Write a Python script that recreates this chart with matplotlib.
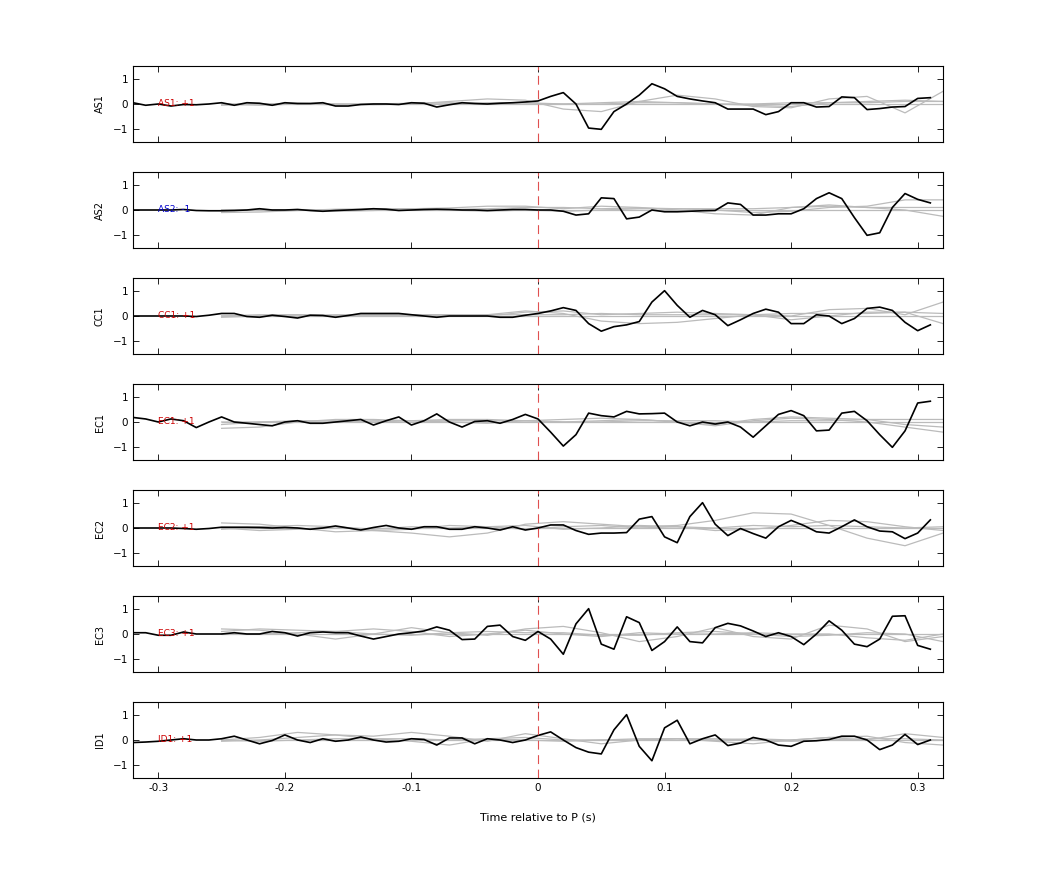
import numpy as np
import matplotlib
matplotlib.use("Agg")
import matplotlib.pyplot as plt

# time axis of the traces (s, relative to P)
t = np.round(np.arange(-0.32, 0.315, 0.01), 2)
# sparser time axis of the grey comparison traces
tg = np.round(np.arange(-0.25, 0.33, 0.03), 2)

stations = ["AS1", "AS2", "CC1", "EC1", "EC2", "EC3", "ID1"]
labels = ["AS1: +1", "AS2: -1", "CC1: +1", "EC1: +1", "EC2: +1", "EC3: +1", "ID1: +1"]
label_colors = ["#cc0000", "#0000cc", "#cc0000", "#cc0000", "#cc0000", "#cc0000", "#cc0000"]

as1 = [0.05, -0.05, 0.0, -0.08, -0.02, -0.03, 0.0, 0.05, -0.05, 0.05, 0.03, -0.05, 0.05, 0.02, 0.02, 0.05,
       -0.08, -0.08, -0.02, 0.0, 0.0, -0.02, 0.05, 0.03, -0.12, -0.03, 0.05, 0.02, 0.0, 0.03, 0.05, 0.08,
       0.12, 0.3, 0.45, 0.0, -0.95, -1.0, -0.3, 0.0, 0.35, 0.8, 0.6, 0.3, 0.2, 0.12, 0.05, -0.2,
       -0.2, -0.2, -0.42, -0.3, 0.05, 0.05, -0.12, -0.1, 0.28, 0.25, -0.22, -0.18, -0.12, -0.1, 0.22, 0.25]
as2 = [0.0, 0.0, 0.0, 0.0, 0.02, -0.02, -0.03, -0.03, -0.02, 0.0, 0.05, 0.0, 0.0, 0.02, -0.02, -0.05,
       -0.02, 0.0, 0.02, 0.05, 0.03, -0.02, 0.0, 0.02, 0.03, 0.02, 0.0, 0.0, -0.02, 0.0, 0.02, 0.02,
       0.0, 0.0, -0.05, -0.2, -0.15, 0.48, 0.45, -0.35, -0.28, 0.0, -0.07, -0.07, -0.05, -0.03, -0.02, 0.28,
       0.22, -0.2, -0.2, -0.15, -0.15, 0.05, 0.45, 0.68, 0.45, -0.3, -1.0, -0.9, 0.1, 0.65, 0.42, 0.28]
cc1 = [0.0, 0.0, 0.0, 0.0, 0.0, -0.02, 0.03, 0.1, 0.1, -0.02, -0.05, 0.03, -0.02, -0.08, 0.03, 0.02,
       -0.05, 0.02, 0.1, 0.1, 0.1, 0.1, 0.05, 0.0, -0.05, 0.0, 0.0, 0.0, 0.0, -0.05, -0.05, 0.03,
       0.1, 0.2, 0.33, 0.22, -0.3, -0.6, -0.42, -0.35, -0.22, 0.55, 1.0, 0.42, -0.05, 0.22, 0.05, -0.38,
       -0.15, 0.1, 0.27, 0.15, -0.3, -0.3, 0.05, 0.0, -0.3, -0.1, 0.3, 0.35, 0.22, -0.25, -0.58, -0.35]
ec1 = [0.18, 0.12, 0.0, 0.12, 0.05, -0.22, 0.0, 0.2, 0.0, -0.05, -0.1, -0.15, 0.0, 0.05, -0.05, -0.05,
       0.0, 0.05, 0.1, -0.12, 0.05, 0.2, -0.12, 0.05, 0.32, 0.0, -0.2, 0.02, 0.05, -0.05, 0.1, 0.3,
       0.12, -0.4, -0.95, -0.5, 0.35, 0.25, 0.2, 0.42, 0.32, 0.33, 0.35, 0.0, -0.15, 0.0, -0.08, 0.0,
       -0.2, -0.6, -0.15, 0.3, 0.45, 0.25, -0.35, -0.32, 0.35, 0.42, 0.05, -0.5, -1.0, -0.35, 0.75, 0.82]
ec2 = [0.0, 0.0, 0.0, 0.0, -0.02, -0.05, -0.02, 0.03, 0.03, 0.03, 0.02, 0.0, 0.02, 0.0, -0.05, 0.0,
       0.08, 0.0, -0.08, 0.02, 0.1, 0.0, -0.05, 0.05, 0.05, -0.05, -0.05, 0.05, 0.0, -0.08, 0.05, -0.08,
       0.0, 0.12, 0.12, -0.1, -0.25, -0.2, -0.2, -0.18, 0.35, 0.45, -0.35, -0.58, 0.45, 1.0, 0.15, -0.3,
       -0.02, -0.22, -0.4, 0.05, 0.3, 0.1, -0.15, -0.2, 0.05, 0.32, 0.05, -0.12, -0.15, -0.42, -0.2, 0.32]
ec3 = [0.05, 0.05, -0.05, -0.05, 0.08, 0.0, 0.0, 0.0, 0.05, 0.0, 0.0, 0.1, 0.05, -0.08, 0.05, 0.08,
       0.05, 0.05, -0.08, -0.2, -0.1, 0.0, 0.05, 0.12, 0.28, 0.15, -0.22, -0.2, 0.3, 0.35, -0.1, -0.25,
       0.1, -0.2, -0.8, 0.4, 1.0, -0.4, -0.6, 0.68, 0.45, -0.65, -0.3, 0.28, -0.3, -0.35, 0.25, 0.42,
       0.32, 0.12, -0.1, 0.05, -0.1, -0.42, 0.0, 0.52, 0.15, -0.4, -0.5, -0.2, 0.7, 0.72, -0.45, -0.6]
id1 = [-0.1, -0.08, -0.05, 0.0, 0.05, 0.0, 0.0, 0.05, 0.15, 0.0, -0.15, -0.02, 0.2, 0.0, -0.1, 0.05,
       -0.05, 0.0, 0.12, 0.0, -0.08, -0.05, 0.05, 0.02, -0.2, 0.08, 0.08, -0.15, 0.05, 0.0, -0.1, 0.0,
       0.18, 0.32, 0.0, -0.3, -0.48, -0.55, 0.4, 1.0, -0.25, -0.82, 0.48, 0.78, -0.15, 0.05, 0.2, -0.22,
       -0.12, 0.1, 0.0, -0.2, -0.25, -0.05, -0.03, 0.02, 0.15, 0.15, 0.0, -0.38, -0.2, 0.22, -0.18, 0.0]
traces = [as1, as2, cc1, ec1, ec2, ec3, id1]

# grey comparison traces, three per station, sampled at tg
grey = [
    [[0, 0, 0, -0.03, 0, 0, 0.1, 0.2, 0.15, -0.2, -0.3, 0.1, 0.35, 0.2, -0.1, -0.15, 0.2, 0.3, -0.35, 0.5],
     [-0.05, 0, 0.03, 0, -0.03, 0, 0, 0.05, 0.05, 0, 0, 0.05, 0.05, 0, 0, 0.05, 0.05, 0.05, 0.1, 0.1],
     [0, -0.05, 0, 0, 0, 0.03, 0.05, 0, 0, 0, 0.05, 0.1, 0.05, 0, -0.05, -0.1, 0.05, 0.1, 0.15, 0.1]],
    [[-0.1, -0.08, -0.02, 0.03, 0.05, 0.05, 0.08, 0.15, 0.15, 0.05, 0.15, 0.1, 0.0, -0.15, -0.2, 0.1, 0.2, 0.1, 0.0, -0.25],
     [0, 0.02, 0, -0.05, -0.02, 0.03, 0.0, -0.05, 0.0, -0.05, 0.0, 0.05, 0.05, 0.0, -0.1, -0.05, 0.1, 0.15, 0.4, 0.4],
     [0, -0.02, 0.02, 0, 0.02, 0.05, 0.02, 0.05, 0.1, 0.1, 0.05, 0.08, 0.05, 0.05, 0.05, 0.1, 0.15, 0.1, 0.1, 0.1]],
    [[0, 0, 0, 0.05, 0.05, 0.05, 0.05, 0.05, 0.2, 0.1, -0.2, -0.3, -0.25, -0.1, 0.05, 0.0, 0.25, 0.3, 0.05, 0.55],
     [-0.05, 0, 0.05, 0, 0.05, 0.05, 0.05, 0.0, 0.15, 0.2, 0.05, 0.1, 0.15, 0.1, 0.05, -0.15, 0.0, 0.15, 0.15, -0.3],
     [0, 0.05, 0.05, 0.02, 0.02, 0.02, 0.02, 0.05, 0.05, 0.05, 0.1, 0.05, 0.05, 0.05, 0.05, 0.1, 0.1, 0.1, 0.15, 0.1]],
    [[-0.25, -0.2, 0.0, 0.1, 0.1, 0.05, 0.1, 0.1, 0.05, 0.0, 0.05, 0.1, 0.0, -0.15, 0.05, 0.15, 0.1, 0.0, -0.2, -0.4],
     [-0.1, 0.0, 0.05, 0.05, 0.0, 0.05, 0.0, -0.05, 0.05, 0.1, 0.15, 0.1, 0.0, -0.1, 0.1, 0.2, 0.15, 0.1, -0.1, -0.2],
     [0, 0, 0, 0, 0.05, 0.05, 0.05, 0.05, 0.05, 0.0, 0.0, 0.05, 0.05, 0.05, 0.0, 0.05, 0.05, 0.1, 0.1, 0.1]],
    [[0.2, 0.15, 0.0, -0.15, -0.1, -0.2, -0.35, -0.2, 0.15, 0.25, 0.15, 0.05, 0.1, 0.3, 0.6, 0.55, 0.1, -0.4, -0.7, -0.2],
     [0.0, -0.1, -0.05, 0.05, -0.05, 0.05, 0.0, 0.05, 0.1, -0.05, 0.0, 0.1, 0.05, -0.1, -0.05, 0.1, 0.3, 0.25, 0.05, -0.1],
     [-0.05, 0.05, 0.1, 0.05, -0.1, -0.05, 0.1, 0.05, -0.05, 0.05, 0.1, 0.0, 0.05, 0.0, 0.1, 0.05, 0.1, 0.05, 0.0, 0.05]],
    [[0.2, 0.15, 0.0, -0.2, 0.0, 0.25, 0.05, -0.05, 0.2, 0.3, 0.05, -0.3, -0.1, 0.25, -0.1, -0.2, 0.35, 0.2, -0.3, -0.1],
     [0.1, 0.2, 0.15, 0.1, 0.2, 0.1, -0.1, 0.0, 0.15, 0.0, -0.1, 0.05, 0.0, 0.0, 0.05, 0.0, 0.0, -0.15, -0.25, 0.0],
     [0.0, 0.0, 0.05, 0.1, 0.0, -0.05, 0.05, 0.1, 0.05, 0.05, -0.05, -0.05, 0.05, 0.1, 0.0, -0.1, -0.05, 0.05, 0.0, -0.3]],
    [[0.0, 0.1, 0.3, 0.2, 0.15, 0.3, 0.15, -0.05, 0.25, 0.05, -0.15, 0.0, 0.05, -0.05, -0.15, 0.0, 0.1, 0.0, 0.25, 0.1],
     [-0.05, 0.0, 0.1, 0.2, 0.05, -0.05, -0.2, 0.05, 0.1, 0.0, 0.0, 0.05, 0.05, 0.0, 0.05, 0.0, 0.1, 0.15, -0.1, -0.2],
     [0.0, -0.05, 0.0, 0.05, 0.05, 0.05, 0.0, 0.05, 0.0, -0.05, 0.0, 0.0, 0.05, 0.05, 0.0, -0.05, 0.0, 0.05, 0.05, 0.0]],
]

fig = plt.figure(figsize=(10.42, 8.75), dpi=100)
W, H = 1042, 875
left, right = 133, 943
tops = [66, 172, 278, 384, 490, 596, 702]
ph = 76

for i, name in enumerate(stations):
    ax = fig.add_axes([left / W, 1 - (tops[i] + ph) / H, (right - left) / W, ph / H])
    for g in grey[i]:
        ax.plot(tg, g, color="#bbbbbb", lw=0.9)
    ax.plot([-0.25, 0.32], [0, 0], color="#bbbbbb", lw=0.9)
    ax.plot(t, traces[i], color="black", lw=1.2)
    ax.axvline(0, color="#e05050", lw=0.8, ls=(0, (8, 5)))
    ax.text(-0.30, 0, labels[i], color=label_colors[i], fontsize=6.5, va="center", ha="left")
    ax.set_xlim(-0.32, 0.32)
    ax.set_ylim(-1.5, 1.5)
    ax.set_yticks([-1, 0, 1])
    ax.set_xticks([-0.3, -0.2, -0.1, 0, 0.1, 0.2, 0.3])
    ax.tick_params(direction="in", top=True, right=True, labelsize=7.5, length=4, width=0.6)
    ax.set_ylabel(name, fontsize=7)
    ax.yaxis.set_label_coords(-0.035, 0.5)
    for s in ax.spines.values():
        s.set_linewidth(0.8)
    if i < len(stations) - 1:
        ax.set_xticklabels([])
    else:
        ax.set_xticklabels(["-0.3", "-0.2", "-0.1", "0", "0.1", "0.2", "0.3"])
        ax.set_xlabel("Time relative to P (s)", fontsize=8)
        ax.xaxis.labelpad = 14

fig.savefig("out.png", dpi=100)
